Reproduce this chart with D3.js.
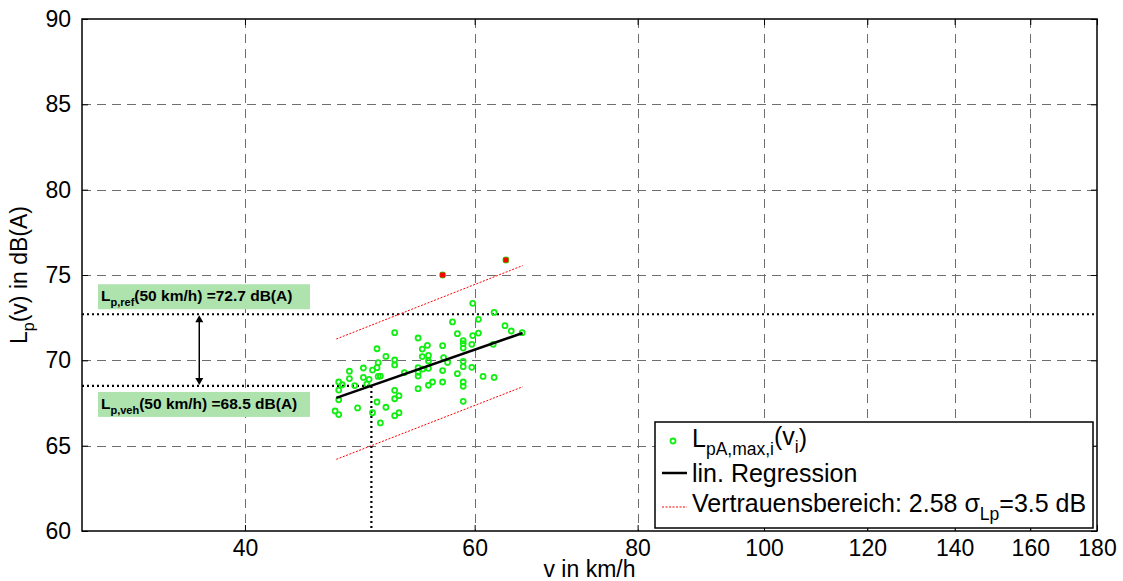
<!DOCTYPE html>
<html><head><meta charset="utf-8">
<script src="https://cdn.jsdelivr.net/npm/d3@7/dist/d3.min.js"></script>
<style>
body{margin:0;background:#fff;}
svg{display:block;font-family:"Liberation Sans",Arial,Helvetica,sans-serif;}
</style></head>
<body>
<svg id="chart" width="1123" height="581"></svg>
<script>
// ---- data ----
const xTicks = [40, 60, 80, 100, 120, 140, 160, 180];
const yTicks = [60, 65, 70, 75, 80, 85, 90];
const speeds = [59.8,62.1,57.7,60.4,63.3,64.0,65.25,52.1,54.3,58.2,59.8,60.4,58.8,58.8,58.8,59.7,62.0,55.2,54.7,56.7,
  50.5,51.3,52.1,54.7,55.3,52.1,50.6,50.5,50.1,49.3,48.1,55.3,56.8,57.2,58.8,58.8,59.7,54.3,54.75,55.3,
  53.0,54.3,54.3,56.7,58.2,50.8,50.6,49.3,49.8,48.1,48.55,47.2,47.5,47.2,47.2,49.6,55.7,56.7,55.3,54.3,
  58.8,58.8,60.9,62.1,52.1,52.5,52.1,50.5,48.8,51.3,58.8,46.9,47.2,50.1,52.5,52.1,50.8];
const levels = [73.34,72.81,72.25,72.40,72.03,71.72,71.62,71.62,71.31,71.56,71.45,71.60,71.15,70.98,70.72,70.94,70.94,70.88,70.66,70.86,
  70.68,70.23,70.02,70.22,70.29,69.73,69.86,69.57,69.43,69.55,69.36,69.96,70.16,69.88,69.94,69.63,69.59,69.57,69.49,69.53,
  69.28,69.30,69.08,69.40,69.22,69.08,69.06,69.00,68.89,68.93,68.52,68.73,68.57,68.26,67.69,68.61,68.73,68.73,68.54,68.34,
  68.73,68.48,69.06,69.00,68.24,67.93,67.75,67.56,67.21,67.25,67.60,67.03,66.82,66.93,66.93,66.76,66.33];
const outlierSpeeds = [56.7, 63.4];
const outlierLevels = [75.0, 75.88];
const regSpeeds = [47.0, 65.3];
const regLevels = [67.8, 71.6];
const upperLevels = [71.25, 75.55];
const lowerLevels = [64.2, 68.45];
const refSpeed = 50;
const refLevel = 72.7;
const vehLevel = 68.5;
const arrowSpeed = 36.9;
const legendLabels = ["lin. Regression", "Vertrauensbereich: 2.58 \u03C3", "=3.5 dB"];

// ---- layout ----
const svg = d3.select("#chart");
const L = 82, R = 1097, T = 19, B = 531;
const x = d3.scaleLog().domain([30, 180]).range([L, R]);
const y = d3.scaleLinear().domain([60, 90]).range([B, T]);
const green = "#11ee11";

// grid
const grid = svg.append("g").attr("stroke", "#6e6e6e").attr("stroke-width", 1).attr("stroke-dasharray", "9,6");
grid.selectAll("line.v").data(xTicks.filter(d => d < 180)).join("line")
  .attr("x1", d => Math.round(x(d)) + 0.5).attr("x2", d => Math.round(x(d)) + 0.5).attr("y1", T).attr("y2", B);
grid.selectAll("line.h").data(yTicks.filter(d => d > 60 && d < 90)).join("line")
  .attr("y1", d => Math.round(y(d)) + 0.5).attr("y2", d => Math.round(y(d)) + 0.5).attr("x1", L).attr("x2", R);

// axes
const xAxisB = d3.axisBottom(x).tickValues(xTicks).tickFormat(d3.format("d")).tickSizeInner(-6).tickSizeOuter(0).tickPadding(9);
const gx = svg.append("g").attr("transform", `translate(0,${B})`).call(xAxisB);
const xAxisT = d3.axisTop(x).tickValues(xTicks).tickFormat("").tickSizeInner(-6).tickSizeOuter(0);
const gxt = svg.append("g").attr("transform", `translate(0,${T})`).call(xAxisT);
const yAxisL = d3.axisLeft(y).tickValues(yTicks).tickSizeInner(-6).tickSizeOuter(0).tickPadding(11);
const gy = svg.append("g").attr("transform", `translate(${L},0)`).call(yAxisL);
const yAxisR = d3.axisRight(y).tickValues(yTicks).tickFormat("").tickSizeInner(-6).tickSizeOuter(0);
const gyr = svg.append("g").attr("transform", `translate(${R},0)`).call(yAxisR);
[gx, gxt, gy, gyr].forEach(g => {
  g.select(".domain").remove();
  g.selectAll("line").attr("stroke", "#000");
  g.selectAll("text").attr("font-size", 23).attr("fill", "#000").attr("font-family", "Liberation Sans, Arial, sans-serif");
});
gx.selectAll("text").attr("dy", "0.71em");

// frame
svg.append("rect").attr("x", L).attr("y", T).attr("width", R - L).attr("height", B - T)
  .attr("fill", "none").attr("stroke", "#000").attr("stroke-width", 1.5);

// reference dotted lines
const dot = svg.append("g").attr("stroke", "#000").attr("stroke-width", 2.2).attr("stroke-dasharray", "2,3").attr("fill", "none");
dot.append("line").attr("x1", L).attr("x2", R).attr("y1", y(refLevel)).attr("y2", y(refLevel));
dot.append("line").attr("x1", L).attr("x2", x(refSpeed)).attr("y1", y(vehLevel)).attr("y2", y(vehLevel));
dot.append("line").attr("x1", x(refSpeed)).attr("x2", x(refSpeed)).attr("y1", y(vehLevel)).attr("y2", B);

// confidence band
const bandLine = d3.line().x(d => x(d[0])).y(d => y(d[1]));
[upperLevels, lowerLevels].forEach(lv => {
  svg.append("path").datum(regSpeeds.map((s, i) => [s, lv[i]])).attr("d", bandLine)
    .attr("fill", "none").attr("stroke", "#ff0000").attr("stroke-width", 1).attr("stroke-dasharray", "2,1.5");
});

// scatter
svg.append("g").selectAll("circle").data(speeds.map((s, i) => [s, levels[i]])).join("circle")
  .attr("cx", d => x(d[0])).attr("cy", d => y(d[1])).attr("r", 2.5)
  .attr("fill", "none").attr("stroke", green).attr("stroke-width", 1.8);
const og = svg.append("g");
const outl = outlierSpeeds.map((s, i) => [s, outlierLevels[i]]);
og.selectAll("circle").data(outl).join("circle")
  .attr("cx", d => x(d[0])).attr("cy", d => y(d[1])).attr("r", 2.5)
  .attr("fill", "none").attr("stroke", green).attr("stroke-width", 1.8);
og.selectAll("rect").data(outl).join("rect")
  .attr("x", d => x(d[0]) - 2.5).attr("y", d => y(d[1]) - 2.5).attr("width", 5).attr("height", 5).attr("fill", "#ff0000");

// regression
svg.append("path").datum(regSpeeds.map((s, i) => [s, regLevels[i]])).attr("d", bandLine)
  .attr("fill", "none").attr("stroke", "#000").attr("stroke-width", 2.5);

// green annotation boxes
function annot(yTop, sub, val) {
  const g = svg.append("g");
  g.append("rect").attr("x", L + 16).attr("y", yTop).attr("width", 212).attr("height", 25).attr("fill", "#aee3ae");
  const t = g.append("text").attr("x", L + 19).attr("y", yTop + 17).attr("font-size", 15.5).attr("font-weight", "bold").attr("fill", "#000");
  t.append("tspan").text("L");
  t.append("tspan").attr("font-size", 11).attr("dy", 5).text(sub);
  t.append("tspan").attr("dy", -5).text(`(50 km/h) =${val} dB(A)`);
}
annot(y(refLevel) - 30, "p,ref", refLevel.toFixed(1));
annot(y(vehLevel) + 6, "p,veh", vehLevel.toFixed(1));

// double arrow
const ax = x(arrowSpeed), ay1 = y(refLevel) + 1, ay2 = y(vehLevel) - 1;
svg.append("line").attr("x1", ax).attr("x2", ax).attr("y1", ay1 + 4).attr("y2", ay2 - 4).attr("stroke", "#000").attr("stroke-width", 1.5);
svg.append("path").attr("d", `M${ax},${ay1} l-4,7 l8,0 z`).attr("fill", "#000");
svg.append("path").attr("d", `M${ax},${ay2} l-4,-7 l8,0 z`).attr("fill", "#000");

// axis labels
const yl = svg.append("text").attr("transform", `translate(27,${(T + B) / 2}) rotate(-90)`)
  .attr("text-anchor", "middle").attr("font-size", 23).attr("fill", "#000");
yl.append("tspan").text("L");
yl.append("tspan").attr("font-size", 16).attr("dy", 7).text("p");
yl.append("tspan").attr("dy", -7).text("(v) in dB(A)");
svg.append("text").attr("x", (L + R) / 2).attr("y", 577).attr("text-anchor", "middle")
  .attr("font-size", 23).attr("fill", "#000").text("v in km/h");

// legend
const lg = svg.append("g");
lg.append("rect").attr("x", R - 442).attr("y", B - 109).attr("width", 438).attr("height", 106)
  .attr("fill", "#fff").attr("stroke", "#000").attr("stroke-width", 1.5);
const lx = R - 405;
lg.append("circle").attr("cx", R - 424).attr("cy", B - 90).attr("r", 2.5).attr("fill", "none").attr("stroke", green).attr("stroke-width", 1.8);
const t1 = lg.append("text").attr("x", lx).attr("y", B - 84).attr("font-size", 25).attr("fill", "#000");
t1.append("tspan").text("L");
t1.append("tspan").attr("font-size", 17.5).attr("dy", 8).text("pA,max,i");
t1.append("tspan").attr("dy", -10).text("(v");
t1.append("tspan").attr("font-size", 17.5).attr("dy", 8).text("i");
t1.append("tspan").attr("dy", -6).text(")");
lg.append("line").attr("x1", R - 435).attr("x2", R - 410).attr("y1", B - 58).attr("y2", B - 58).attr("stroke", "#000").attr("stroke-width", 2.5);
lg.append("text").attr("x", lx).attr("y", B - 49).attr("font-size", 25).attr("fill", "#000").text(legendLabels[0]);
lg.append("line").attr("x1", R - 435).attr("x2", R - 410).attr("y1", B - 24).attr("y2", B - 24)
  .attr("stroke", "#ff0000").attr("stroke-width", 1).attr("stroke-dasharray", "2,1.5");
const t3 = lg.append("text").attr("x", lx).attr("y", B - 19).attr("font-size", 25).attr("fill", "#000");
t3.append("tspan").text(legendLabels[1]);
t3.append("tspan").attr("font-size", 17.5).attr("dy", 8).text("Lp");
t3.append("tspan").attr("dy", -8).text(legendLabels[2]);
</script>
</body></html>
